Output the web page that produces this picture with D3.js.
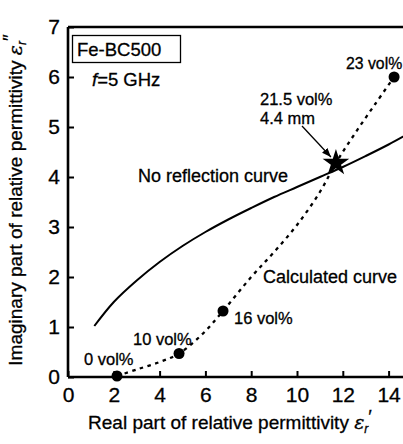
<!DOCTYPE html>
<html><head><meta charset="utf-8">
<script src="https://cdn.jsdelivr.net/npm/d3@7"></script>
<style>body{margin:0;background:#fff}svg{display:block}text{font-family:"Liberation Sans",Arial,sans-serif;fill:#000;stroke:#000;stroke-width:0.3px}</style>
</head><body>
<script>
const xTicks=[0,2,4,6,8,10,12,14];
const yTicks=[0,1,2,3,4,5,6,7];
const noReflX=[1.15,2,3,4,5,6,7,8,9,10,11,12,13,14,14.8];
const noReflY=[1.02,1.5,1.93,2.3,2.62,2.9,3.15,3.38,3.6,3.8,4.0,4.2,4.42,4.65,4.85];
const calcX=[2.14,3,4,4.85,5.85,6.77,8,9,10,11,11.7,12.5,13.4,14.24];
const calcY=[0.02,0.15,0.3,0.47,0.85,1.32,2.0,2.5,3.04,3.7,4.28,4.85,5.45,6.0];
const ptLabels=["0 vol%","10 vol%","16 vol%","23 vol%"];
const ptX=[2.14,4.85,6.77,14.24];
const ptY=[0.02,0.47,1.32,6.0];
const starX=11.7, starY=4.28;

const W=403,H=444;
const svg=d3.select("body").append("svg").attr("width",W).attr("height",H);
const x=d3.scaleLinear().domain([0,15]).range([68,411.5]);
const y=d3.scaleLinear().domain([0,7]).range([377,27]);

svg.append("path").attr("d",`M${x(0)},${y(7)}H${x(15)}M${x(0)},${y(0)}H${x(15)}M${x(0)},${y(0)}V${y(7)}`)
 .attr("stroke","#000").attr("stroke-width",2.6).attr("fill","none");
const styleAxis=g=>{g.select(".domain").remove();g.selectAll("line").attr("stroke-width",2);
  g.selectAll("text").attr("font-size",21).attr("font-family","Liberation Sans, Arial");};
svg.append("g").attr("transform",`translate(0,${y(0)})`).call(d3.axisBottom(x).tickValues(xTicks).tickFormat(d3.format("d")).tickSizeInner(-6).tickSizeOuter(0).tickPadding(10)).call(styleAxis);
svg.append("g").attr("transform",`translate(${x(0)},0)`).call(d3.axisLeft(y).tickValues(yTicks).tickFormat(d3.format("d")).tickSizeInner(-6).tickSizeOuter(0).tickPadding(8)).call(styleAxis);

const line=d3.line().x(d=>x(d[0])).y(d=>y(d[1])).curve(d3.curveCatmullRom);
svg.append("path").datum(noReflX.map((v,i)=>[v,noReflY[i]])).attr("d",line).attr("fill","none").attr("stroke","#000").attr("stroke-width",2);
svg.append("path").datum(calcX.map((v,i)=>[v,calcY[i]])).attr("d",line).attr("fill","none").attr("stroke","#000").attr("stroke-width",2.3).attr("stroke-dasharray","3.5,4.5");

svg.selectAll("circle.pt").data(ptX).enter().append("circle").attr("cx",d=>x(d)).attr("cy",(d,i)=>y(ptY[i])).attr("r",5.5).attr("fill","#000");
svg.append("path").attr("d",d3.symbol(d3.symbolStar,220)()).attr("transform",`translate(${x(starX)},${y(starY)})`).attr("fill","#000");

svg.append("defs").append("marker").attr("id","ah").attr("viewBox","0 0 10 10").attr("refX",10).attr("refY",5)
 .attr("markerWidth",7).attr("markerHeight",7).attr("orient","auto").append("path").attr("d","M0,1L10,5L0,9Z").attr("fill","#000");
svg.append("line").attr("x1",302).attr("y1",126).attr("x2",x(starX)-5).attr("y2",y(starY)-6).attr("stroke","#000").attr("stroke-width",1.3).attr("marker-end","url(#ah)");

const lab=(t,xx,yy,s)=>svg.append("text").attr("x",xx).attr("y",yy).attr("font-size",s).text(t);
lab(ptLabels[0],84,365,16.5);
lab(ptLabels[1],133,345,16.5);
lab(ptLabels[2],234,324,16.5);
lab(ptLabels[3],346,69,15.8);
lab("21.5 vol%",260,105,16.5);
lab("4.4 mm",260,124,16.5);
lab("No reflection curve",138,182,18);
lab("Calculated curve",263,283,18);

svg.append("rect").attr("x",72.5).attr("y",35.5).attr("width",108).attr("height",27).attr("fill","none").attr("stroke","#000").attr("stroke-width",1.3);
lab("Fe-BC500",77,56,18.5);
const ft=svg.append("text").attr("x",92).attr("y",86).attr("font-size",18.5);
ft.append("tspan").attr("font-style","italic").text("f");
ft.append("tspan").text("=5 GHz");

const xl=svg.append("text").attr("x",230).attr("y",429).attr("text-anchor","middle").attr("font-size",19);
xl.append("tspan").text("Real part of relative permittivity ");
xl.append("tspan").attr("font-style","italic").attr("font-family","DejaVu Serif").text("ε");
xl.append("tspan").attr("font-style","italic").attr("font-size",12).attr("dy",4).text("r");
xl.append("tspan").attr("dy",-10).text("′");

const yl=svg.append("text").attr("transform","translate(22,200) rotate(-90)").attr("text-anchor","middle").attr("font-size",19);
yl.append("tspan").text("Imaginary part of relative permittivity ");
yl.append("tspan").attr("font-style","italic").attr("font-family","DejaVu Serif").text("ε");
yl.append("tspan").attr("font-style","italic").attr("font-size",12).attr("dy",4).text("r");
yl.append("tspan").attr("dy",-10).text("″");
</script>
</body></html>
